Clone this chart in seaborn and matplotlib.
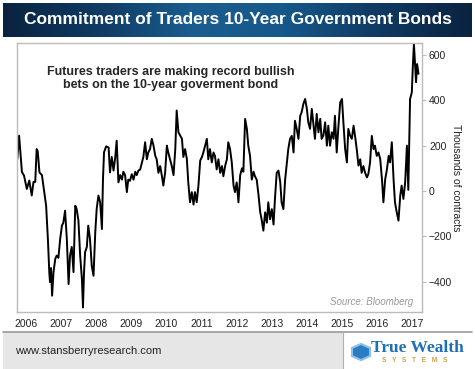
import numpy as np
import pandas as pd
import matplotlib
matplotlib.use('Agg')
import matplotlib.pyplot as plt
from matplotlib.colors import LinearSegmentedColormap
from matplotlib.patches import Rectangle, RegularPolygon
import seaborn as sns

# net positions of futures traders in 10-year notes (thousands of contracts)
years = [2005.75, 2005.80, 2005.88, 2005.94, 2006.02, 2006.09, 2006.16, 2006.21, 2006.26, 2006.30,
         2006.33, 2006.38, 2006.45, 2006.51, 2006.57, 2006.62, 2006.66, 2006.68, 2006.71, 2006.74,
         2006.78, 2006.83, 2006.87, 2006.92, 2006.97, 2007.02, 2007.06, 2007.11, 2007.16, 2007.21,
         2007.25, 2007.30, 2007.35, 2007.40, 2007.44, 2007.49, 2007.54, 2007.59, 2007.62, 2007.65,
         2007.68, 2007.73, 2007.77, 2007.82, 2007.87, 2007.92, 2007.97, 2008.01, 2008.06, 2008.11,
         2008.16, 2008.19, 2008.22, 2008.28, 2008.35, 2008.39, 2008.44, 2008.49, 2008.54, 2008.58,
         2008.63, 2008.68, 2008.73, 2008.77, 2008.82, 2008.87, 2008.91, 2008.96, 2009.01, 2009.06,
         2009.11, 2009.15, 2009.20, 2009.25, 2009.30, 2009.34, 2009.39, 2009.44, 2009.48, 2009.53,
         2009.58, 2009.63, 2009.68, 2009.72, 2009.77, 2009.82, 2009.87, 2009.91, 2009.96, 2010.01,
         2010.05, 2010.10, 2010.15, 2010.20, 2010.25, 2010.29, 2010.34, 2010.39, 2010.44, 2010.48,
         2010.53, 2010.58, 2010.62, 2010.67, 2010.72, 2010.77, 2010.81, 2010.86, 2010.91, 2010.96,
         2011.01, 2011.05, 2011.10, 2011.15, 2011.19, 2011.24, 2011.29, 2011.34, 2011.38, 2011.43,
         2011.48, 2011.53, 2011.58, 2011.62, 2011.67, 2011.72, 2011.76, 2011.81, 2011.86, 2011.91,
         2011.95, 2012.00, 2012.05, 2012.10, 2012.15, 2012.19, 2012.24, 2012.29, 2012.33, 2012.38,
         2012.43, 2012.48, 2012.52, 2012.57, 2012.62, 2012.67, 2012.71, 2012.76, 2012.81, 2012.86,
         2012.90, 2012.95, 2013.00, 2013.05, 2013.09, 2013.14, 2013.19, 2013.24, 2013.28, 2013.33,
         2013.38, 2013.43, 2013.47, 2013.52, 2013.57, 2013.62, 2013.66, 2013.71, 2013.76, 2013.81,
         2013.85, 2013.90, 2013.95, 2014.00, 2014.04, 2014.09, 2014.14, 2014.19, 2014.23, 2014.28,
         2014.33, 2014.38, 2014.42, 2014.47, 2014.52, 2014.57, 2014.61, 2014.66, 2014.71, 2014.76,
         2014.80, 2014.85, 2014.90, 2014.95, 2015.00, 2015.04, 2015.09, 2015.14, 2015.18, 2015.23,
         2015.28, 2015.33, 2015.37, 2015.42, 2015.47, 2015.52, 2015.56, 2015.61, 2015.66, 2015.71,
         2015.75, 2015.80, 2015.85, 2015.90, 2015.94, 2015.99, 2016.04, 2016.09, 2016.14, 2016.18,
         2016.23, 2016.28, 2016.33, 2016.37, 2016.42, 2016.47, 2016.51, 2016.56, 2016.61, 2016.66,
         2016.70, 2016.75, 2016.80, 2016.85, 2016.89, 2016.94, 2016.99, 2017.02, 2017.05, 2017.08,
         2017.11, 2017.14, 2017.18]
net_pos = [141, 244, 84, 68, 9, 46, -20, 40, 40, 185,
           176, 82, 70, 2, -65, -212, -358, -402, -340, -462,
           -358, -300, -285, -295, -212, -153, -140, -87, -212, -411,
           -286, -247, -358, -65, -80, -130, -286, -389, -514, -358,
           -270, -247, -153, -212, -330, -374, -182, -80, -20, -50,
           -168, 53, 171, 197, 192, 82, 150, 90, 150, 222,
           38, 70, 50, 85, 70, -5, 50, 45, 74, 50,
           85, 70, 90, 95, 126, 150, 215, 140, 170, 185,
           230, 200, 155, 140, 80, 110, 65, 24, 80, 200,
           170, 140, 110, 70, 185, 355, 259, 245, 230, 150,
           185, 141, 38, -50, -5, -60, -5, -50, 24, 134,
           150, 170, 200, 230, 140, 185, 126, 170, 155, 95,
           140, 80, 110, 65, 110, 140, 215, 185, 126, 24,
           -5, 38, -50, 70, 100, 85, 318, 274, 200, 155,
           50, 85, 65, 50, -15, -94, -125, -175, -94, -140,
           -50, -125, -80, -148, -35, 80, 90, 40, -50, -80,
           50, 126, 185, 230, 243, 170, 310, 274, 230, 332,
           347, 384, 406, 362, 303, 274, 362, 288, 230, 340,
           259, 318, 230, 245, 303, 200, 288, 200, 259, 230,
           332, 170, 288, 391, 406, 303, 185, 126, 274, 245,
           230, 288, 245, 185, 112, 140, 80, 110, 80, 60,
           74, 126, 243, 185, 200, 155, 170, 140, 50, -50,
           50, 95, 155, 126, 215, 50, -50, -94, -131, -20,
           24, -35, 38, 200, 5, 406, 435, 553, 649, 560,
           480, 560, 517]

year_ticks = list(range(2006, 2018))
value_ticks = [-400, -200, 0, 200, 400, 600]

df = pd.DataFrame({'year': years, 'net': net_pos})

sns.set_style('white')
plt.rcParams['font.family'] = ['Liberation Sans', 'DejaVu Sans']

fig = plt.figure(figsize=(4.75, 3.69), dpi=100)

# title banner with a dark blue gradient
ax_ban = fig.add_axes([3 / 475, 1 - 37 / 369, 469 / 475, 34 / 369])
ban_cmap = LinearSegmentedColormap.from_list(
    'ban', ['#0a2340', '#0f3a63', '#1a5d8e', '#16588a', '#0f3a63', '#0a2340'])
ax_ban.imshow(np.linspace(0, 1, 256)[None, :], cmap=ban_cmap, aspect='auto',
              extent=[0, 1, 0, 1])
ax_ban.set_axis_off()
ax_ban.text(0.5, 0.5, 'Commitment of Traders 10-Year Government Bonds',
            color='white', fontsize=12.5, fontweight='bold',
            ha='center', va='center', transform=ax_ban.transAxes)

# main chart
ax = fig.add_axes([17 / 475, 1 - 312 / 369, 405 / 475, 269 / 369])
sns.lineplot(data=df, x='year', y='net', color='black', linewidth=1.4, ax=ax)
ax.set_xlim(2005.74, 2017.28)
ax.set_ylim(-534, 653)
ax.set_xticks(year_ticks)
ax.set_xticklabels([str(y) for y in year_ticks])
ax.set_yticks(value_ticks)
ax.yaxis.tick_right()
ax.yaxis.set_label_position('right')
ax.set_xlabel('')
ax.set_ylabel('Thousands of contracts', rotation=270, labelpad=6,
              fontsize=7.5, color='#222222')
ax.tick_params(axis='both', labelsize=7.5, colors='#222222', length=3,
               width=0.8, direction='out', pad=2)
ax.tick_params(axis='both', color='#bbbbbb')
for sp in ax.spines.values():
    sp.set_color('#bbbbbb')
    sp.set_linewidth(1)

ax.text(0.38, 0.868, 'Futures traders are making record bullish\nbets on the 10-year goverment bond',
        transform=ax.transAxes, ha='center', va='center', fontsize=9,
        fontweight='bold', linespacing=1.1)
ax.text(0.978, 0.037, 'Source: Bloomberg', transform=ax.transAxes, ha='right',
        va='center', fontsize=7, style='italic', color='#999999')

# footer
fig.patches.append(Rectangle((3 / 475, 0), 340 / 475, 37 / 369, transform=fig.transFigure,
                             facecolor='#e6e6e6', edgecolor='none'))
fig.add_artist(plt.Line2D([3 / 475, 472 / 475], [37 / 369, 37 / 369],
                          transform=fig.transFigure, color='#9a9a9a', lw=1.2))
fig.add_artist(plt.Line2D([343 / 475, 343 / 475], [0, 37 / 369],
                          transform=fig.transFigure, color='#b0b0b0', lw=0.8))
fig.text(15 / 475, 1 - 351 / 369, 'www.stansberryresearch.com', fontsize=8,
         color='#222222', ha='left', va='center')
fig.patches.append(RegularPolygon((361 / 475, 1 - 352 / 369), numVertices=6, radius=0.022,
                                  orientation=0, transform=fig.transFigure,
                                  facecolor='#2a7dc4', edgecolor='#8cc2ea', lw=1.5))
fig.text(371 / 475, 1 - 348 / 369, 'True Wealth', fontsize=12.5, fontweight='bold',
         family=['Liberation Serif', 'DejaVu Serif'], color='#1f6fb5',
         ha='left', va='center')
fig.text(415 / 475, 1 - 360 / 369, 'S   Y   S   T   E   M   S', fontsize=4.8, fontweight='bold',
         color='#c9a24a', ha='center', va='center')

fig.savefig('out.png', dpi=100)
